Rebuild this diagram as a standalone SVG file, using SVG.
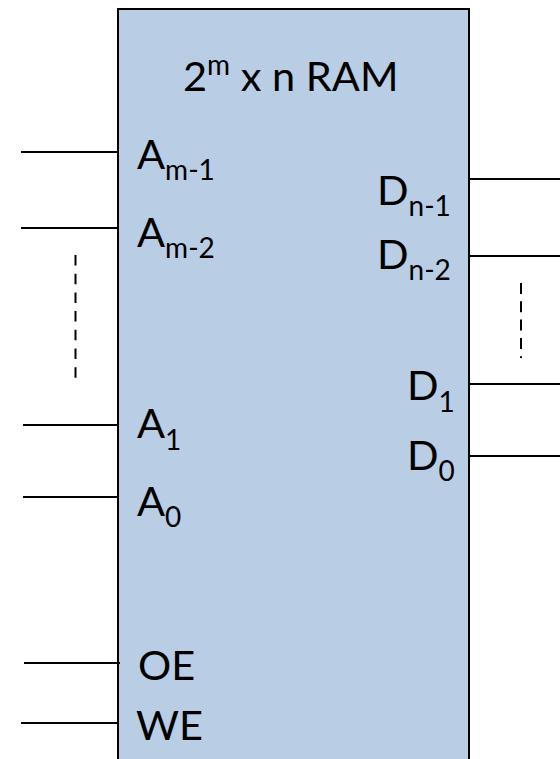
<svg xmlns="http://www.w3.org/2000/svg" width="560" height="759" viewBox="0 0 560 759">
  <style>
    .block { fill: #b9cde5; stroke: #000; stroke-width: 2; }
    .pin { stroke: #000; stroke-width: 2; fill: none; }
    .dots { stroke: #000; stroke-width: 2; fill: none; }
    .lbl { font-family: Lato, "Open Sans", "Liberation Sans", sans-serif; font-size: 41.5px; fill: #000; }
    .sub { font-size: 28px; }
  </style>
  <rect width="560" height="759" fill="#fff"/>

  <!-- RAM block -->
  <g id="ram">
    <rect class="block" x="118" y="9" width="351" height="770"/>
    <text class="lbl" x="183" y="91">2<tspan class="sub" dy="-16">m</tspan><tspan dy="16"> x n RAM</tspan></text>
    <g id="addr-pins">
      <text class="lbl" x="137" y="169">A<tspan class="sub" dy="11">m-1</tspan></text>
      <text class="lbl" x="137" y="247">A<tspan class="sub" dy="11">m-2</tspan></text>
      <text class="lbl" x="137" y="438">A<tspan class="sub" dy="12">1</tspan></text>
      <text class="lbl" x="137" y="516">A<tspan class="sub" dy="11">0</tspan></text>
    </g>
    <g id="data-pins">
      <text class="lbl" x="377" y="205">D<tspan class="sub" dy="11">n-1</tspan></text>
      <text class="lbl" x="377" y="269">D<tspan class="sub" dy="11">n-2</tspan></text>
      <text class="lbl" x="407" y="400">D<tspan class="sub" dy="12">1</tspan></text>
      <text class="lbl" x="407" y="470">D<tspan class="sub" dy="11">0</tspan></text>
    </g>
    <g id="ctrl-pins">
      <text class="lbl" x="138" y="680">OE</text>
      <text class="lbl" x="136" y="740">WE</text>
    </g>
  </g>

  <!-- pin connectors -->
  <g id="connectors">
    <line class="pin" x1="21" y1="152" x2="118" y2="152"/>
    <line class="pin" x1="21" y1="228" x2="118" y2="228"/>
    <line class="pin" x1="23" y1="425" x2="118" y2="425"/>
    <line class="pin" x1="23" y1="497" x2="118" y2="497"/>
    <line class="pin" x1="24" y1="663" x2="120" y2="663"/>
    <line class="pin" x1="21" y1="723" x2="118" y2="723"/>
    <line class="pin" x1="469" y1="179" x2="560" y2="179"/>
    <line class="pin" x1="469" y1="256" x2="560" y2="256"/>
    <line class="pin" x1="469" y1="384" x2="560" y2="384"/>
    <line class="pin" x1="469" y1="456" x2="560" y2="456"/>
    <!-- elided pins -->
    <line class="dots" x1="75.5" y1="255" x2="75.5" y2="378" stroke-dasharray="10.5 8.2"/>
    <line class="dots" x1="521" y1="283" x2="521" y2="358" stroke-dasharray="11 7.3"/>
  </g>
</svg>
